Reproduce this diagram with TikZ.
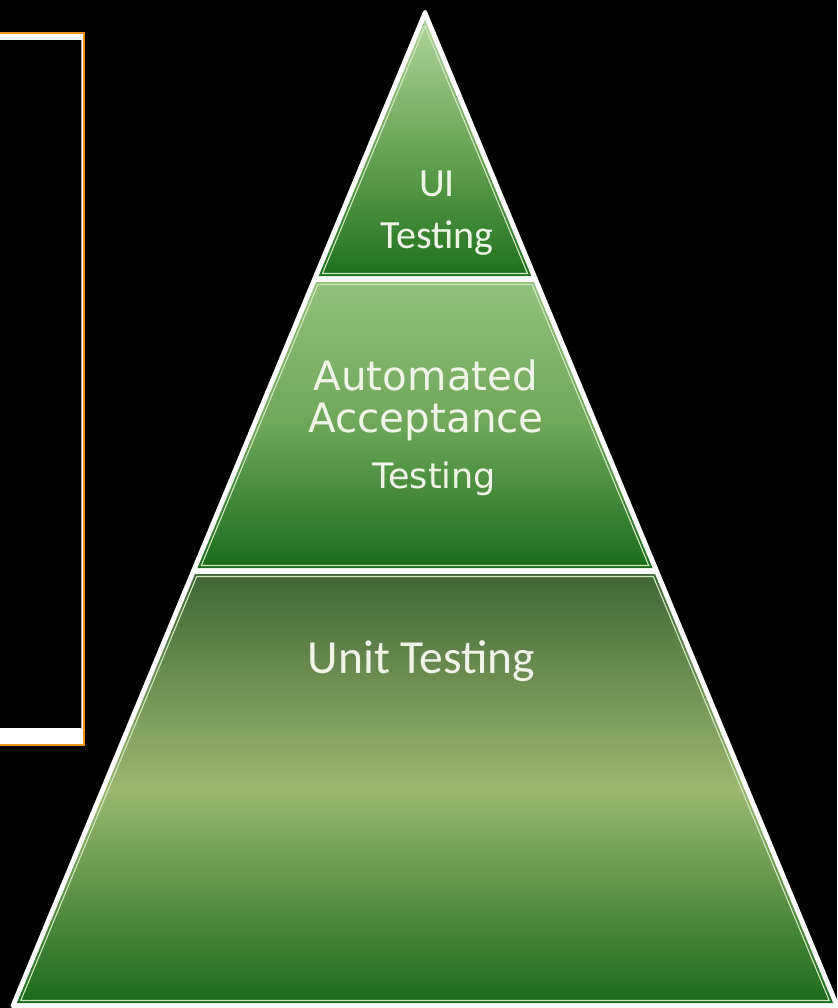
\documentclass[tikz,border=0pt]{standalone}
\usepackage{fontspec}
\newfontfamily\calib{Carlito}
\newfontfamily\verd{DejaVu Sans}
\definecolor{orangeb}{HTML}{F39314}
\definecolor{txt}{HTML}{EEF5E6}
\definecolor{innerl}{HTML}{CFE8C0}
\definecolor{tA}{HTML}{B0D49B}
\definecolor{tB}{HTML}{6AA455}
\definecolor{tC}{HTML}{1F711F}
\definecolor{mA}{HTML}{92C17B}
\definecolor{mB}{HTML}{6EA65A}
\definecolor{mC}{HTML}{1C6C1C}
\definecolor{bA}{HTML}{416636}
\definecolor{bB}{HTML}{9CB770}
\definecolor{bC}{HTML}{1B6A1B}
\tikzset{
  inline/.style={draw=innerl, line width=1.1pt, line join=miter},
  lbl/.style={text=txt, inner sep=0pt, anchor=base},
}
\begin{document}
\begin{tikzpicture}[x=1pt,y=-1pt]
\fill[black] (0,0) rectangle (837,1008);
\useasboundingbox (0,0) rectangle (837,1008);
% left panel
\draw[orangeb, line width=2pt, fill=white] (-5,33) rectangle (83.5,744.5);
\fill[black] (-5,40) rectangle (81,728);
\draw[black!35, line width=0.8pt] (81.6,40) -- (81.6,729);
% pyramid outline
\filldraw[white, line width=4pt, line join=round] (425,12) -- (837.5,1006) -- (12.5,1006) -- cycle;
% top section
\shade[top color=tA, bottom color=tC, middle color=tB] (425,19.8) -- (531.3,276) -- (318.7,276) -- cycle;
\draw[inline] (425,26.3) -- (527.5,273.5) -- (322.5,273.5) -- cycle;
% middle section
\shade[top color=mA, bottom color=mC, middle color=mB] (316.2,282) -- (533.8,282) -- (652.5,568) -- (197.5,568) -- cycle;
\draw[inline] (317.9,284.5) -- (532.1,284.5) -- (648.7,565.5) -- (201.3,565.5) -- cycle;
% bottom section
\shade[top color=bA, bottom color=bC, middle color=bB] (195.0,574) -- (655.0,574) -- (833.1,1003) -- (16.9,1003) -- cycle;
\draw[inline] (196.7,576.5) -- (653.3,576.5) -- (829.2,1000.5) -- (20.8,1000.5) -- cycle;
% labels
\node[lbl, font=\calib\fontsize{40}{44}\selectfont] (ui1) at (437,197) {UI};
\node[lbl, font=\calib\fontsize{40}{44}\selectfont] (ui2) at (437,248) {Testing};
\node[lbl, font=\verd\fontsize{40.5}{44}\selectfont] (aa1) at (426,390) {Automated};
\node[lbl, font=\verd\fontsize{40.5}{44}\selectfont] (aa2) at (426,432) {Acceptance};
\node[lbl, font=\verd\fontsize{35}{38}\selectfont] (aa3) at (434.5,488) {Testing};
\node[lbl, font=\calib\fontsize{47.5}{52}\selectfont] (ut) at (421.5,673) {Unit Testing};
\end{tikzpicture}
\end{document}
